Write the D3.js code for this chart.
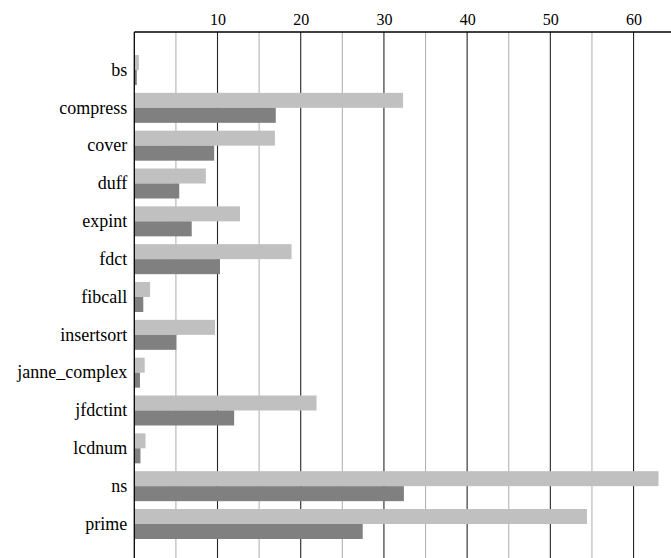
<!DOCTYPE html>
<html>
<head>
<meta charset="utf-8">
<script src="https://cdn.jsdelivr.net/npm/d3@7"></script>
<style>
  body { margin: 0; background: #fff; }
</style>
</head>
<body>
<div class="datavis"><svg></svg></div>
<script>
const width = 671
const height = 558

// benchmarks, top to bottom
const benchmarks = ["bs", "compress", "cover", "duff", "expint", "fdct", "fibcall",
  "insertsort", "janne_complex", "jfdctint", "lcdnum", "ns", "prime"]
// light bar (upper) and dark bar (lower) of each pair
const lightVals = [0.55, 32.3, 16.9, 8.6, 12.7, 18.9, 1.9, 9.7, 1.25, 21.9, 1.35, 63.0, 54.4]
const darkVals  = [0.3, 17.0, 9.6, 5.4, 6.9, 10.3, 1.08, 5.05, 0.68, 12.0, 0.74, 32.4, 27.45]
const majorTicks = [10, 20, 30, 40, 50, 60]
const minorTicks = [5, 15, 25, 35, 45, 55]

const margin = { top: 32, left: 134.3 }

const x = d3.scaleLinear()
  .domain([0, 64.5])
  .range([margin.left, width])

const y = d3.scaleBand()
  .domain(benchmarks)
  .range([margin.top, 562])
  .paddingInner(0.207)
  .paddingOuter(0.608)

const sub = d3.scaleBand()
  .domain(["light", "dark"])
  .range([0, y.bandwidth()])

const svg = d3.select(".datavis > svg")
  .attr("width", width)
  .attr("height", height)
  .attr("viewBox", [0, 0, width, height])

// grid
svg.append("g").selectAll("line").data(minorTicks).join("line")
  .attr("x1", d => x(d)).attr("x2", d => x(d))
  .attr("y1", margin.top).attr("y2", height)
  .attr("stroke", "#b3b3b3").attr("stroke-width", 1.1)

svg.append("g").selectAll("line").data(majorTicks).join("line")
  .attr("x1", d => x(d)).attr("x2", d => x(d))
  .attr("y1", margin.top).attr("y2", height)
  .attr("stroke", "#262626").attr("stroke-width", 1.1)

// bars
const rows = benchmarks.map((b, i) => ({ name: b, light: lightVals[i], dark: darkVals[i] }))

const grp = svg.append("g").selectAll("g").data(rows).join("g")
  .attr("transform", d => `translate(0,${y(d.name)})`)

grp.append("rect")
  .attr("x", x(0))
  .attr("y", sub("light"))
  .attr("width", d => x(d.light) - x(0))
  .attr("height", sub.bandwidth())
  .attr("fill", "#c0c0c0")

grp.append("rect")
  .attr("x", x(0))
  .attr("y", sub("dark"))
  .attr("width", d => x(d.dark) - x(0))
  .attr("height", sub.bandwidth())
  .attr("fill", "#808080")

// top axis
const xAxis = d3.axisTop(x).tickValues(majorTicks).tickSize(0).tickPadding(7)
svg.append("g")
  .attr("transform", `translate(0,${margin.top})`)
  .call(xAxis)
  .call(g => g.select(".domain").remove())
  .call(g => g.selectAll("text")
    .style("font-family", "Liberation Serif")
    .style("font-size", "16px"))

svg.append("line")
  .attr("x1", x(0)).attr("x2", width)
  .attr("y1", margin.top).attr("y2", margin.top)
  .attr("stroke", "#000").attr("stroke-width", 1.3)

// left axis
const yAxis = d3.axisLeft(y).tickSize(0).tickPadding(7)
svg.append("g")
  .attr("transform", `translate(${x(0)},0)`)
  .call(yAxis)
  .call(g => g.select(".domain").remove())
  .call(g => g.selectAll("text")
    .style("font-family", "Liberation Serif")
    .style("font-size", "18px"))

svg.append("line")
  .attr("x1", x(0)).attr("x2", x(0))
  .attr("y1", margin.top).attr("y2", height)
  .attr("stroke", "#000").attr("stroke-width", 1.3)
</script>
</body>
</html>
